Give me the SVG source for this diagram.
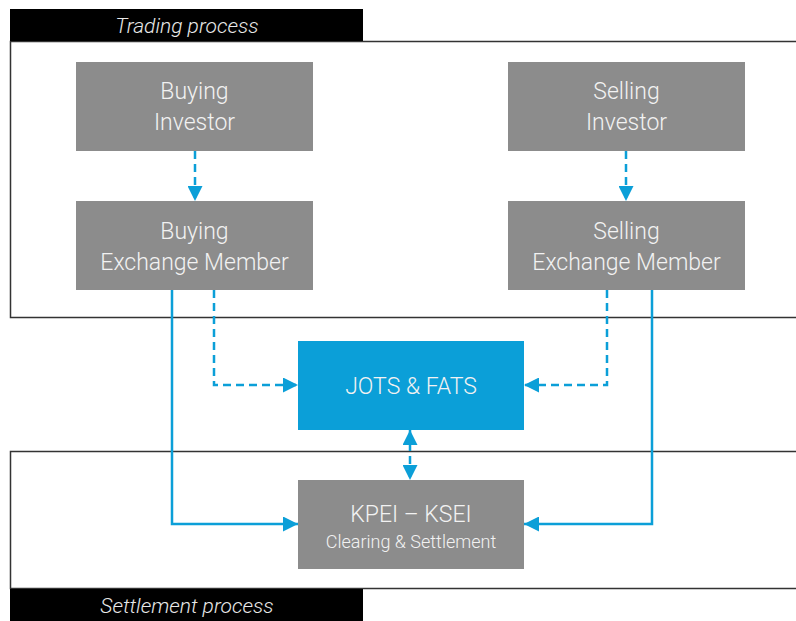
<svg xmlns="http://www.w3.org/2000/svg" width="796" height="621" viewBox="0 0 796 621">
<defs>
<style>
.frame{fill:none;stroke:#333;stroke-width:1.5}
.lbl{fill:#000}
.lt{font-family:Roboto,"Liberation Sans",sans-serif;font-weight:300;font-style:italic;font-size:21px;fill:#e8e8e8;text-anchor:middle}
.box{fill:#8c8c8c}
.blue{fill:#0b9fd8}
.t{font-family:Roboto,"Liberation Sans",sans-serif;font-weight:300;font-size:23px;fill:#f2f2f2;text-anchor:middle}
.ts{font-family:Roboto,"Liberation Sans",sans-serif;font-weight:300;font-size:18px;fill:#f2f2f2;text-anchor:middle}
.c{fill:none;stroke:#0b9fd8;stroke-width:2.5}
.d{stroke-dasharray:8,5}
</style>
<marker id="ah" viewBox="0 0 10 10" refX="10" refY="5" markerWidth="6" markerHeight="6" markerUnits="strokeWidth" orient="auto-start-reverse">
<path d="M0,0 L10,5 L0,10 z" fill="#0b9fd8"/>
</marker>
</defs>
<g id="trading-frame">
<rect class="frame" x="10.5" y="41.5" width="800" height="276"/>
<rect class="lbl" x="10" y="9" width="353" height="32"/>
<text class="lt" x="187" y="33">Trading process</text>
</g>
<g id="settlement-frame">
<rect class="frame" x="10.5" y="451.5" width="800" height="137"/>
<rect class="lbl" x="10" y="589" width="353" height="32"/>
<text class="lt" x="187" y="613">Settlement process</text>
</g>
<g id="buying-investor">
<rect class="box" x="76" y="62" width="237" height="89"/>
<text class="t" x="194.5" y="99">Buying</text>
<text class="t" x="194.5" y="130">Investor</text>
</g>
<g id="selling-investor">
<rect class="box" x="508" y="62" width="237" height="89"/>
<text class="t" x="626.5" y="99">Selling</text>
<text class="t" x="626.5" y="130">Investor</text>
</g>
<g id="buying-member">
<rect class="box" x="76" y="201" width="237" height="89"/>
<text class="t" x="194.5" y="239">Buying</text>
<text class="t" x="194.5" y="270">Exchange Member</text>
</g>
<g id="selling-member">
<rect class="box" x="508" y="201" width="237" height="89"/>
<text class="t" x="626.5" y="239">Selling</text>
<text class="t" x="626.5" y="270">Exchange Member</text>
</g>
<g id="jots-fats">
<rect class="blue" x="298" y="341" width="226" height="89"/>
<text class="t" x="411" y="394">JOTS &amp; FATS</text>
</g>
<g id="kpei-ksei">
<rect class="box" x="298" y="480" width="226" height="89"/>
<text class="t" x="411" y="522">KPEI – KSEI</text>
<text class="ts" x="411" y="548">Clearing &amp; Settlement</text>
</g>
<g id="connectors">
<path class="c d" d="M195,151 V201" marker-end="url(#ah)"/>
<path class="c d" d="M626,151 V201" marker-end="url(#ah)"/>
<path class="c d" d="M214,290 V385 H298" marker-end="url(#ah)"/>
<path class="c d" d="M607,290 V385 H524" marker-end="url(#ah)"/>
<path class="c" d="M172,290 V524 H298" marker-end="url(#ah)"/>
<path class="c" d="M652,290 V524 H524" marker-end="url(#ah)"/>
<path class="c d" d="M410,430 V480" marker-start="url(#ah)" marker-end="url(#ah)"/>
</g>
</svg>
